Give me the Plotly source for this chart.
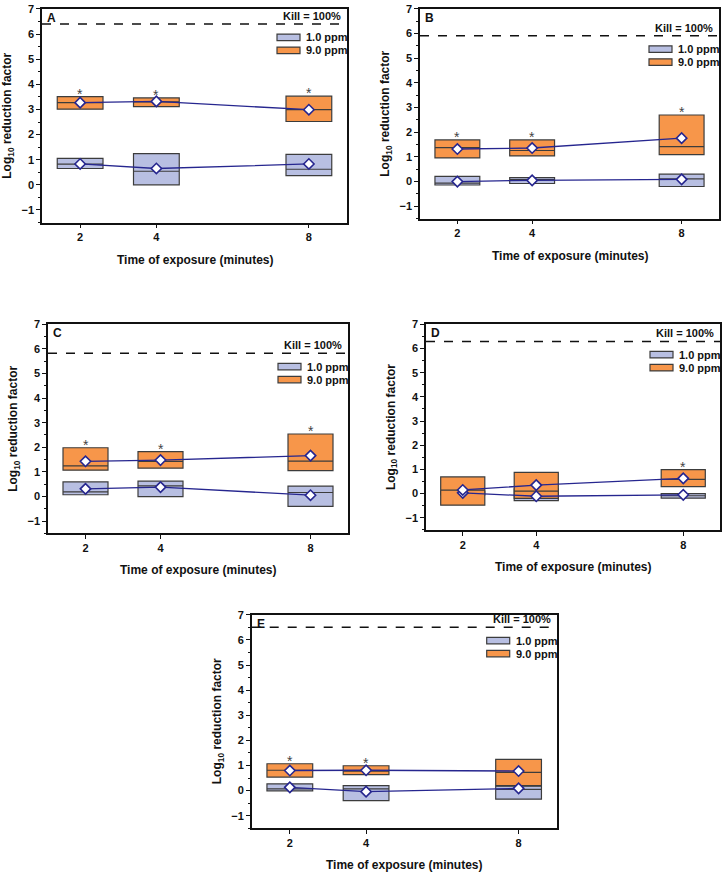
import plotly.graph_objects as go

# ---------------- data ----------------
panels = ["A", "B", "C", "D", "E"]
times = [2, 4, 8]
kill_level = [6.40, 5.91, 5.82, 6.29, 6.50]
series_names = ["1.0 ppm", "9.0 ppm"]
x_tick_labels = ["2", "4", "8"]

low_q1 = [[0.65, 0.00, 0.37], [-0.14, -0.08, -0.20], [0.07, -0.01, -0.40], [-0.05, -0.29, -0.19], [-0.01, -0.40, -0.34]]
low_med = [[0.82, 0.54, 0.62], [-0.06, 0.08, 0.11], [0.19, 0.43, 0.16], [0.00, -0.10, -0.09], [0.07, 0.07, 0.05]]
low_q3 = [[1.05, 1.24, 1.21], [0.21, 0.16, 0.30], [0.59, 0.62, 0.42], [0.10, 0.20, 0.00], [0.27, 0.20, 0.18]]
low_mean = [[0.83, 0.65, 0.83], [0.00, 0.05, 0.09], [0.31, 0.38, 0.05], [0.03, -0.11, -0.05], [0.13, -0.04, 0.09]]

high_q1 = [[3.01, 3.11, 2.52], [0.96, 1.04, 1.09], [1.07, 1.15, 1.05], [-0.48, -0.20, 0.29], [0.54, 0.64, 0.20]]
high_med = [[3.27, 3.30, 2.99], [1.38, 1.26, 1.42], [1.24, 1.43, 1.44], [0.14, 0.10, 0.59], [0.81, 0.78, 0.73]]
high_q3 = [[3.51, 3.46, 3.53], [1.69, 1.69, 2.70], [1.98, 1.82, 2.54], [0.69, 0.88, 0.99], [1.07, 0.99, 1.24]]
high_mean = [[3.27, 3.32, 2.99], [1.32, 1.36, 1.76], [1.43, 1.48, 1.66], [0.15, 0.35, 0.63], [0.80, 0.81, 0.78]]

significant = [[1, 1, 1], [1, 1, 1], [1, 1, 1], [0, 0, 1], [1, 1, 0]]

# ---------------- style ----------------
FONT = "Liberation Sans"
BLUE_FILL = "#b8bfe2"
ORANGE_FILL = "#f7964a"
BOX_LINE = "#3c3c3c"
MEAN_LINE = "#26268f"
W, H = 722, 872

# plot-area pixel boxes (left, top, right, bottom)
px_boxes = [
    (42, 3, 347, 218),
    (420, 3, 719, 214),
    (48, 320.5, 348, 531),
    (426, 320.5, 720, 527.5),
    (251.7, 613, 556.7, 828),
]

fig = go.Figure()
layout = dict(
    width=W, height=H,
    margin=dict(l=0, r=0, t=0, b=0),
    paper_bgcolor="white", plot_bgcolor="white",
    showlegend=False,
    font=dict(family=FONT, size=11, color="#111"),
)
shapes = []
annotations = []

for i, p in enumerate(panels):
    n = "" if i == 0 else str(i + 1)
    xa, ya = "x" + n, "y" + n
    l, t, r, b = px_boxes[i]
    layout["xaxis" + n] = dict(
        domain=[l / W, r / W], anchor=ya, range=[1, 9],
        tickvals=times, ticktext=x_tick_labels,
        ticks="outside", ticklen=4, tickwidth=1.2, tickcolor="#111",
        showline=True, linecolor="#111", linewidth=1.5, mirror=True,
        showgrid=False, zeroline=False,
        tickfont=dict(family=FONT, size=11, weight="bold", color="#111"),
    )
    layout["yaxis" + n] = dict(
        domain=[1 - b / H, 1 - t / H], anchor=xa, range=[-1.5, 7],
        tick0=0, dtick=1,
        ticks="outside", ticklen=4, tickwidth=1.2, tickcolor="#111",
        minor=dict(dtick=0.5, ticks="outside", ticklen=2, tickwidth=1, tickcolor="#111"),
        showline=True, linecolor="#111", linewidth=1.5, mirror=True,
        showgrid=False, zeroline=False,
        tickfont=dict(family=FONT, size=11, weight="bold", color="#111"),
    )

    # boxes
    for q1, med, q3, fill, name in [
        (low_q1[i], low_med[i], low_q3[i], BLUE_FILL, series_names[0]),
        (high_q1[i], high_med[i], high_q3[i], ORANGE_FILL, series_names[1]),
    ]:
        fig.add_trace(go.Box(
            x=times, q1=q1, median=med, q3=q3, lowerfence=q1, upperfence=q3,
            width=1.2, whiskerwidth=0, fillcolor=fill,
            line=dict(color=BOX_LINE, width=1.2), name=name,
            xaxis=xa, yaxis=ya, boxpoints=False,
        ))
    # mean lines
    for mean in (low_mean[i], high_mean[i]):
        fig.add_trace(go.Scatter(
            x=times, y=mean, mode="lines+markers",
            line=dict(color=MEAN_LINE, width=1.3),
            marker=dict(symbol="diamond", size=8, color="white",
                        line=dict(color=MEAN_LINE, width=1.6)),
            xaxis=xa, yaxis=ya,
        ))
    # asterisks (significance marks on top of the 9.0 ppm boxes)
    for k in range(3):
        if significant[i][k]:
            annotations.append(dict(text="*", xref=xa, yref=ya, x=times[k], y=high_q3[i][k],
                                    xanchor="center", yanchor="bottom", yshift=-7,
                                    showarrow=False,
                                    font=dict(family=FONT, size=14, color="#444")))

    # kill line
    shapes.append(dict(type="line", xref=xa + " domain", yref=ya,
                       x0=0, x1=1, y0=kill_level[i], y1=kill_level[i],
                       line=dict(color="#111", width=1.5, dash="dash")))
    annotations.append(dict(text="<b>Kill = 100%</b>", xref=xa + " domain", yref=ya,
                            x=1, y=kill_level[i], xanchor="right", yanchor="bottom",
                            xshift=-4, yshift=0, showarrow=False,
                            font=dict(family=FONT, size=11, color="#111")))
    # panel letter
    annotations.append(dict(text="<b>" + p + "</b>", xref=xa + " domain", yref=ya + " domain",
                            x=0, y=1, xanchor="left", yanchor="top", xshift=3, yshift=0,
                            showarrow=False, font=dict(family=FONT, size=12, color="#111")))
    # legend (anchored below kill line)
    for k, (name, fill) in enumerate(zip(series_names, [BLUE_FILL, ORANGE_FILL])):
        top = -10 - 13 * k
        shapes.append(dict(type="rect", xref=xa + " domain", yref=ya,
                           xsizemode="pixel", ysizemode="pixel",
                           xanchor=1, yanchor=kill_level[i],
                           x0=-70, x1=-47, y0=top - 6.5, y1=top,
                           fillcolor=fill, line=dict(color=BOX_LINE, width=1.2)))
        annotations.append(dict(text="<b>" + name + "</b>", xref=xa + " domain", yref=ya,
                                x=1, y=kill_level[i], xanchor="left", yanchor="middle",
                                xshift=-43, yshift=top - 3.25, showarrow=False,
                                font=dict(family=FONT, size=11, color="#111")))
    # axis titles
    annotations.append(dict(text="<b>Time of exposure (minutes)</b>", xref=xa + " domain",
                            yref=ya + " domain", x=0.5, y=0, xanchor="center", yanchor="middle",
                            yshift=-37, showarrow=False,
                            font=dict(family=FONT, size=12, color="#111")))
    annotations.append(dict(text="<b>Log<sub>10</sub> reduction factor</b>", xref=xa + " domain",
                            yref=ya + " domain", x=0, y=0.5, xanchor="center", yanchor="middle",
                            xshift=-34, textangle=-90, showarrow=False,
                            font=dict(family=FONT, size=12, color="#111")))

layout["shapes"] = shapes
layout["annotations"] = annotations
fig.update_layout(**layout)
fig.write_html(
    "out.html",
    config={"displayModeBar": False},
    post_script="document.body.style.margin='0px';document.body.style.overflow='hidden';",
)
